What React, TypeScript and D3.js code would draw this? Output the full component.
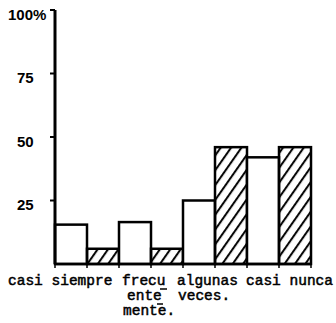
import React from "react";
import * as d3 from "d3";

const categories = ["casi siempre", "frecuentemente", "algunas veces", "casi nunca"];
const openValues = [15.5, 16.5, 25, 42];
const hatchedValues = [6, 6, 46, 46];
const series = ["open", "hatched"];
const yTicks = [25, 50, 75, 100];
const yTickLabels = ["25", "50", "75", "100%"];
// label lines per category (as printed, hyphenated)
const catLabelLines = [["casi siempre"], ["frecu", "ente", "mente."], ["algunas", "veces."], ["casi nunca"]];

const W = 336;
const H = 323;
const left = 55;
const right = 311;
const top = 10;
const base = 264;

export default function App() {
  const x = d3.scaleBand<string>().domain(categories).range([left, right]).padding(0);
  const xi = d3.scaleBand<string>().domain(series).range([0, x.bandwidth()]).padding(0);
  const y = d3.scaleLinear().domain([0, 100]).range([base, top]);

  const labelDx = [-47, 3, -6, -1];
  const lineDx = [[0], [0, 5, 1], [0, 1], [0]];
  const lineY = [285, 300, 315];
  const mono = "'Liberation Mono', 'Courier New', monospace";

  const edges: number[] = [];
  categories.forEach((c) => {
    series.forEach((s) => edges.push((x(c) as number) + (xi(s) as number)));
  });
  edges.push(right);

  return (
    <svg width={W} height={H} style={{ position: "absolute", left: 0, top: 0, background: "#fff" }}>
      <defs>
        <pattern id="hatch" patternUnits="userSpaceOnUse" width={8.5} height={8.5} patternTransform="rotate(35)">
          <line x1={2} y1={0} x2={2} y2={8.5} stroke="#000" strokeWidth={2} />
        </pattern>
      </defs>
      {categories.map((c, i) => {
        const x0 = x(c) as number;
        return (
          <g key={c}>
            <rect
              x={x0 + (xi("open") as number)}
              y={y(openValues[i])}
              width={xi.bandwidth()}
              height={base - y(openValues[i])}
              fill="#fff"
              stroke="#000"
              strokeWidth={2.5}
            />
            <rect
              x={x0 + (xi("hatched") as number)}
              y={y(hatchedValues[i])}
              width={xi.bandwidth()}
              height={base - y(hatchedValues[i])}
              fill="url(#hatch)"
              stroke="#000"
              strokeWidth={2.5}
            />
          </g>
        );
      })}
      <line x1={left} x2={right} y1={base} y2={base} stroke="#000" strokeWidth={2.5} />
      {edges.map((e, i) => (
        <line key={i} x1={e} x2={e} y1={base} y2={base + 4} stroke="#000" strokeWidth={1.5} />
      ))}
      <line x1={left} x2={left} y1={y(100)} y2={base} stroke="#000" strokeWidth={3} />
      {yTicks.map((t, i) => (
        <g key={t}>
          <line x1={left - 5} x2={left} y1={y(t)} y2={y(t)} stroke="#000" strokeWidth={2} />
          <text
            x={t === 100 ? 8 : 17}
            y={y(t) + 6}
            dominantBaseline="middle"
            fontFamily="'Liberation Sans', Arial, sans-serif"
            fontWeight="bold"
            fontSize={15}
            fill="#000"
          >
            {yTickLabels[i]}
          </text>
        </g>
      ))}
      {catLabelLines.map((lines, i) =>
        lines.map((ln, j) => (
          <text
            key={i + "-" + j}
            x={(x(categories[i]) as number) + labelDx[i] + lineDx[i][j]}
            y={lineY[j]}
            fontFamily={mono}
            fontSize={14.5}
            fill="#000"
            stroke="#000"
            strokeWidth={0.5}
            style={{ whiteSpace: "pre" }}
          >
            {ln}
          </text>
        ))
      )}
      <line x1={160} x2={167} y1={289} y2={289} stroke="#000" strokeWidth={1.5} />
      <line x1={157} x2={163} y1={304} y2={304} stroke="#000" strokeWidth={1.5} />
    </svg>
  );
}
